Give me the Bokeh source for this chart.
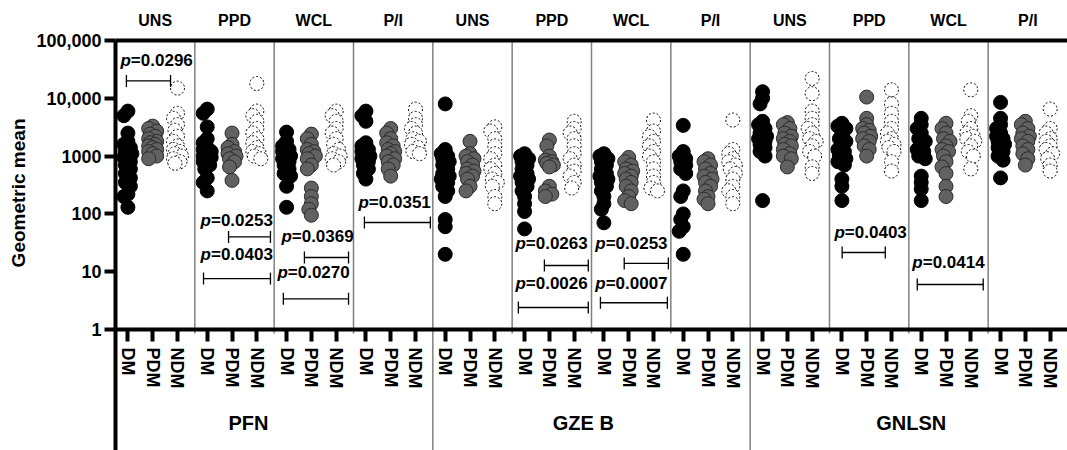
import numpy as np
from bokeh.plotting import figure
from bokeh.models import Range1d, LinearAxis, FixedTicker, Title
from bokeh.core.properties import value
from bokeh.embed import file_html
from bokeh.resources import INLINE

# ---------------- data ----------------
groups = ["PFN", "GZE B", "GNLSN"]
stimuli = ["UNS", "PPD", "WCL", "P/I"]
subgroups = ["DM", "PDM", "NDM"]

# one list per panel (PFN UNS, PFN PPD, PFN WCL, PFN P/I, GZE B UNS, ..., GNLSN P/I)
dm_values = [
    [6000, 5000, 2500, 1800, 1600, 1400, 1200, 1100, 950, 800, 700, 600, 500, 420, 350, 300, 220, 200, 130],
    [6500, 5500, 3200, 2000, 1700, 1400, 1300, 1200, 1100, 1000, 950, 900, 800, 700, 600, 420, 350, 250],
    [2600, 1800, 1500, 1300, 1200, 1100, 1000, 900, 800, 700, 600, 500, 450, 300, 130],
    [6000, 5000, 4000, 1700, 1500, 1300, 1200, 1100, 1000, 900, 800, 700, 600, 500, 400],
    [8000, 1300, 1100, 1000, 900, 800, 700, 600, 500, 450, 400, 350, 300, 250, 200, 80, 60, 20],
    [1100, 1000, 900, 800, 700, 600, 500, 450, 400, 350, 300, 250, 200, 150, 110, 55],
    [1100, 1000, 900, 800, 700, 600, 500, 450, 400, 350, 300, 250, 200, 150, 120, 70],
    [3400, 1200, 1000, 900, 800, 700, 600, 500, 250, 200, 100, 80, 60, 50, 20],
    [13000, 10000, 8000, 4000, 3500, 3000, 2500, 2200, 2000, 1800, 1600, 1400, 1200, 1000, 170],
    [3700, 3300, 3000, 2500, 2000, 1800, 1500, 1300, 1200, 1000, 900, 800, 700, 400, 300, 170],
    [4500, 3500, 3000, 2500, 2000, 1800, 1500, 1300, 1200, 1000, 900, 450, 350, 270, 170],
    [8500, 4500, 3500, 3000, 2500, 2200, 2000, 1800, 1600, 1400, 1200, 1000, 850, 420],
]
pdm_values = [
    [3300, 3000, 2700, 2400, 2200, 2000, 1800, 1700, 1600, 1500, 1400, 1300, 1200, 1100, 1000, 900],
    [2500, 1600, 1400, 1200, 1100, 1000, 900, 800, 650, 380],
    [2400, 2000, 1600, 1300, 1200, 1100, 1000, 900, 700, 600, 280, 200, 150, 120, 95],
    [3000, 2500, 2000, 1700, 1500, 1300, 1200, 1100, 1000, 900, 800, 700, 600, 450],
    [1800, 1100, 1000, 900, 800, 700, 600, 550, 500, 450, 400, 300, 250],
    [1900, 1500, 1000, 850, 800, 750, 700, 650, 300, 250, 220, 200],
    [950, 800, 700, 600, 550, 500, 450, 400, 350, 300, 250, 200, 170, 150],
    [900, 800, 700, 600, 500, 450, 400, 350, 300, 250, 200, 180, 150],
    [3800, 3500, 3000, 2500, 2200, 2000, 1800, 1600, 1500, 1300, 1100, 1000, 900, 650],
    [10500, 4500, 3500, 3000, 2800, 2500, 2200, 2000, 1800, 1500, 1300, 1000],
    [3700, 3000, 2500, 2000, 1800, 1500, 1300, 1200, 1000, 800, 650, 500, 300, 200],
    [4000, 3500, 3000, 2500, 2200, 2000, 1800, 1500, 1300, 1100, 900, 700],
]
ndm_values = [
    [15000, 5500, 4500, 3500, 2800, 2200, 1800, 1500, 1300, 1200, 1100, 1000, 900, 800, 750],
    [18000, 6000, 5000, 4000, 3000, 2500, 2000, 1700, 1400, 1200, 1100, 1000, 900],
    [6000, 5000, 4000, 3000, 2500, 2000, 1600, 1300, 1100, 1000, 900, 800, 700],
    [6500, 4500, 3500, 3000, 2500, 2000, 1800, 1600, 1400, 1200, 1100],
    [3200, 2700, 2000, 1500, 1100, 900, 700, 600, 500, 400, 350, 300, 200, 150],
    [4000, 3000, 2500, 2000, 1500, 1100, 900, 700, 550, 450, 350, 280],
    [4200, 2700, 2200, 1800, 1500, 1200, 1000, 800, 600, 450, 350, 280, 250],
    [4200, 1300, 1100, 900, 800, 700, 600, 500, 400, 300, 250, 200, 150],
    [22000, 12000, 6000, 4500, 3500, 3000, 2500, 2000, 1800, 1500, 1200, 1000, 650, 500],
    [14000, 8000, 5500, 4000, 3000, 2500, 2000, 1800, 1600, 1400, 1200, 800, 550],
    [14000, 5000, 4000, 3000, 2500, 2200, 2000, 1800, 1500, 1200, 1000, 600],
    [6500, 3000, 2500, 2000, 1800, 1500, 1300, 1100, 900, 700, 550],
]

# p-value annotations
p_labels = ["0.0296", "0.0253", "0.0403", "0.0369", "0.0270", "0.0351",
            "0.0263", "0.0026", "0.0253", "0.0007", "0.0403", "0.0414"]

# ---------------- layout (annotation placement, data units) ----------------
PANEL_W = 32           # x units per panel
CAT_OFF = [5, 15, 25]  # category positions inside a panel
PX_PER_UNIT = 2.48
PX_PER_DEC = 57.8
Y_LO = 10 ** (-121 / PX_PER_DEC)
FONT = "Liberation Sans"

p_text_x = [6.2, 38.5, 38.5, 71.1, 69.5, 102.2, 165.5, 165.5, 197.7, 197.7, 294.2, 325.6]
p_text_y = [45000, 77, 20, 40, 9.7, 157, 31, 6.25, 31, 6.25, 47.7, 14.4]
br_x0 = [4.4, 45.6, 35.5, 76.2, 67.7, 100.4, 173.0, 162.5, 205.2, 195.6, 293.1, 323.4]
br_x1 = [22.2, 62.5, 62.5, 94.0, 94.0, 127.0, 190.7, 190.7, 223.0, 222.6, 310.5, 350.0]
br_y = [20000, 40, 7.6, 17.6, 3.4, 71, 12.8, 2.4, 13.9, 2.9, 21.5, 6.0]
group_label_x = [53.6, 188.7, 321.0]
group_label_y = 0.0246


def swarm(vals):
    """Deterministic small horizontal dodge for overlapping markers (pixels)."""
    ys = np.log10(np.asarray(vals, float)) * PX_PER_DEC
    order = np.argsort(-ys)
    placed = []
    offs = np.zeros(len(vals))
    cands = [0, -2.5, 2.5, -4, 4]
    for i in order:
        best, bestd = 0, -1
        for c in cands:
            d = min([np.hypot(c - px, ys[i] - py) for px, py in placed] or [99])
            if d >= 6:
                best = c
                break
            if d > bestd:
                bestd, best = d, c
        offs[i] = best
        placed.append((best, ys[i]))
    return offs / PX_PER_UNIT


n_panels = len(groups) * len(stimuli)
p = figure(width=1067, height=450,
           x_range=Range1d(0, PANEL_W * n_panels), y_range=Range1d(Y_LO, 1e5),
           y_axis_type="log", x_axis_location=None,
           output_backend="svg", toolbar_location=None,
           min_border_left=115, min_border_right=0, min_border_top=40, min_border_bottom=0)
p.xgrid.visible = False
p.ygrid.visible = False
p.outline_line_color = None

# panel separators
minor_x = [PANEL_W * k for k in range(1, n_panels) if k % len(stimuli) != 0]
major_x = [PANEL_W * k for k in range(1, n_panels) if k % len(stimuli) == 0]
p.segment(x0=minor_x, x1=minor_x, y0=[1e5] * len(minor_x), y1=[0.85] * len(minor_x),
          line_color="#808080", line_width=1.5)
p.segment(x0=major_x, x1=major_x, y0=[1e5] * len(major_x), y1=[Y_LO] * len(major_x),
          line_color="#808080", line_width=1.5)

styles = [
    dict(fill_color="black", line_color="black", line_width=1),
    dict(fill_color="#616161", line_color="#2b2b2b", line_width=1),
    dict(fill_color="white", line_color="black", line_width=1, line_dash="2 2"),
]
series = [dm_values, pdm_values, ndm_values]
for s_idx, (vals_list, st) in enumerate(zip(series, styles)):
    xs, ys = [], []
    for k, vals in enumerate(vals_list):
        base = PANEL_W * k + CAT_OFF[s_idx]
        offs = swarm(vals)
        xs += list(base + offs)
        ys += list(vals)
    p.scatter(x=xs, y=ys, size=14, marker="circle", **st)

# brackets
cap = 10 ** (6 / PX_PER_DEC)
p.segment(x0=br_x0, x1=br_x1, y0=br_y, y1=br_y, line_color="black", line_width=1.3)
p.segment(x0=br_x0 + br_x1, x1=br_x0 + br_x1,
          y0=[y / cap for y in br_y] * 2, y1=[y * cap for y in br_y] * 2,
          line_color="black", line_width=1.3)
p.text(x=p_text_x, y=p_text_y, text=["p"] * len(p_labels), text_align="right",
       text_baseline="middle", text_font=value(FONT), text_font_size="17px",
       text_font_style="bold italic", text_color="black")
p.text(x=p_text_x, y=p_text_y, text=["=" + s for s in p_labels], text_align="left",
       text_baseline="middle", text_font=value(FONT), text_font_size="17px",
       text_font_style="bold", text_color="black")

# group labels
p.text(x=group_label_x, y=[group_label_y] * len(groups), text=groups,
       text_align="center", text_baseline="middle", text_font=value(FONT),
       text_font_size="20px", text_font_style="bold", text_color="black")

# y axis
yax = p.yaxis[0]
yticks = [1, 10, 100, 1000, 10000, 100000]
yax.ticker = FixedTicker(ticks=yticks)
yax.major_label_overrides = {1: "1", 10: "10", 100: "100", 1000: "1000",
                             10000: "10,000", 100000: "100,000"}
yax.axis_line_width = 4
yax.major_tick_line_width = 4
yax.major_tick_out = 11
yax.major_tick_in = 0
yax.minor_tick_line_color = None
yax.major_label_standoff = 3
yax.major_label_text_font = FONT
yax.major_label_text_font_size = "18px"
yax.major_label_text_font_style = "bold"
yax.major_label_text_color = "black"

p.add_layout(Title(text="Geometric mean", align="right", offset=78, text_color="black",
                   text_font=FONT, text_font_size="19px", text_font_style="bold"), "left")

# bottom category axis at y = 1
cat_ticks = [PANEL_W * k + c for k in range(n_panels) for c in CAT_OFF]
xb = LinearAxis(fixed_location=1, ticker=FixedTicker(ticks=cat_ticks),
                major_label_overrides={t: subgroups[i % 3] for i, t in enumerate(cat_ticks)},
                major_label_orientation="vertical",
                axis_line_width=4, major_tick_line_width=4, major_tick_out=12, major_tick_in=0,
                minor_tick_line_color=None, major_label_standoff=6,
                major_label_text_font=FONT, major_label_text_font_size="18px",
                major_label_text_font_style="bold", major_label_text_color="black")
p.add_layout(xb, "below")

# top stimulus axis
top_ticks = [PANEL_W * k + PANEL_W // 2 for k in range(n_panels)]
xt = LinearAxis(ticker=FixedTicker(ticks=top_ticks),
                major_label_overrides={t: stimuli[i % 4] for i, t in enumerate(top_ticks)},
                axis_line_width=4, major_tick_out=0, major_tick_in=0,
                minor_tick_line_color=None, major_label_standoff=12,
                major_label_text_font=FONT, major_label_text_font_size="16px",
                major_label_text_font_style="bold", major_label_text_color="black")
p.add_layout(xt, "above")

open("out.html", "w").write(file_html(p, INLINE))
